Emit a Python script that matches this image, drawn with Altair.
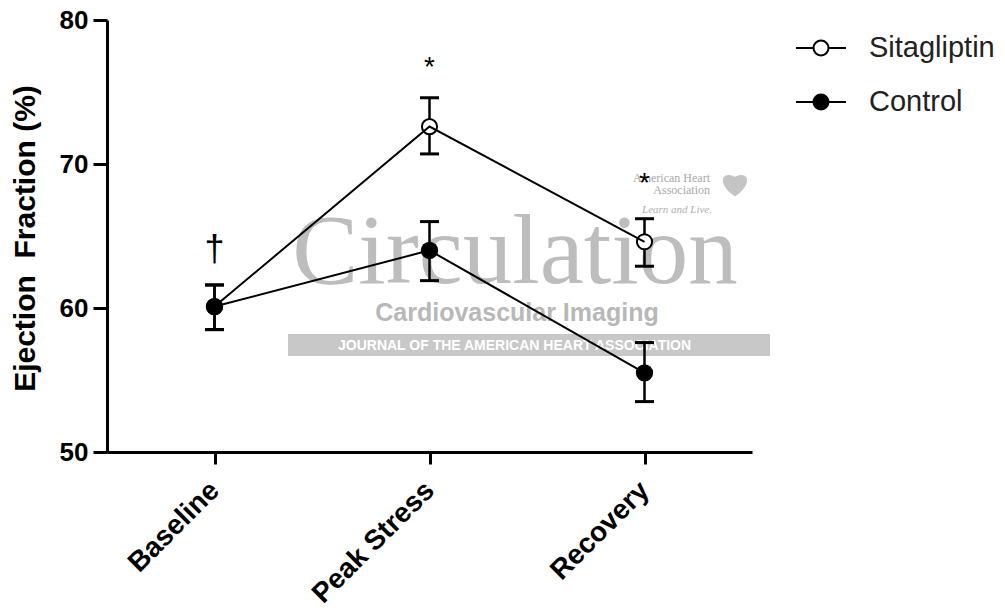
import altair as alt
import pandas as pd

phases = ["Baseline", "Peak Stress", "Recovery"]
series_names = ["Sitagliptin", "Control"]

sita_mean = [60.1, 72.6, 64.6]
sita_upper = [61.6, 74.6, 66.2]
sita_lower = [58.5, 70.7, 62.9]

ctrl_mean = [60.1, 64.0, 55.5]
ctrl_upper = [61.6, 66.0, 57.6]
ctrl_lower = [58.5, 61.9, 53.5]

ann_phase = ["Baseline", "Peak Stress", "Recovery"]
ann_value = [64.2, 77.1, 69.0]
ann_text = ["\u2020", "*", "*"]

y_ticks = [50, 60, 70, 80]

wm_main = ["Circulation"]
wm_sub = ["Cardiovascular Imaging"]
wm_bar = ["JOURNAL OF THE AMERICAN HEART ASSOCIATION"]
wm_aha = ["American Heart", "Association", "Learn and Live."]

rows = []
for name, m, lo, up in [("Sitagliptin", sita_mean, sita_lower, sita_upper),
                        ("Control", ctrl_mean, ctrl_lower, ctrl_upper)]:
    for p, a, b, c in zip(phases, m, lo, up):
        rows.append({"series": name, "phase": p, "mean": a, "lower": b, "upper": c})
df = pd.DataFrame(rows)
ann = pd.DataFrame({"phase": ann_phase, "value": ann_value, "text": ann_text})

FONT = "Liberation Sans"

x_enc = alt.X("phase:N", sort=phases,
              scale=alt.Scale(type="point", domain=phases, padding=0.5),
              axis=alt.Axis(title=None, labelAngle=-45, labelAlign="right", labelBaseline="middle",
                            labelFont=FONT, labelFontWeight="bold", labelFontSize=28, labelColor="black",
                            tickSize=12, tickWidth=3, tickColor="black", domainWidth=3, domainColor="black",
                            labelPadding=22, grid=False))
y_scale = alt.Scale(domain=[50, 80], nice=False, zero=False)
y_axis = alt.Axis(values=y_ticks, format="d", grid=False,
                  labelFont=FONT, labelFontWeight="bold", labelFontSize=26, labelColor="black",
                  labelPadding=5, tickSize=14, tickWidth=3, tickColor="black",
                  domainWidth=3, domainColor="black",
                  title="Ejection\u00a0 Fraction (%)", titleFont=FONT, titleFontWeight="bold",
                  titleFontSize=30, titleColor="black", titleAngle=270, titleX=-82, titleY=218,
                  titleAlign="center", titleBaseline="middle")

base = alt.Chart(df)

# watermark
wm_rect = alt.Chart(pd.DataFrame({"k": [0]})).mark_rect(color="#c8c8c8").encode(
    x=alt.value(181), x2=alt.value(663), y=alt.value(314), y2=alt.value(336))
wm_text1 = alt.Chart(pd.DataFrame({"t": wm_main})).mark_text(
    font="Liberation Serif", fontSize=99, color="#bdbdbd", align="center", baseline="alphabetic"
).encode(text="t:N", x=alt.value(408), y=alt.value(263))
wm_text2 = alt.Chart(pd.DataFrame({"t": wm_sub})).mark_text(
    font=FONT, fontSize=25, fontWeight="bold", color="#b8b8b8", align="center", baseline="alphabetic"
).encode(text="t:N", x=alt.value(410), y=alt.value(301))
wm_text3 = alt.Chart(pd.DataFrame({"t": wm_bar})).mark_text(
    font=FONT, fontSize=14, fontWeight="bold", color="white", align="left", baseline="middle"
).encode(text="t:N", x=alt.value(231), y=alt.value(326))
aha_df = pd.DataFrame({"t": wm_aha})
wm_aha1 = alt.Chart(aha_df.iloc[[0]]).mark_text(
    font="Liberation Serif", fontSize=12, color="#a8a8a8", align="right", baseline="middle"
).encode(text="t:N", x=alt.value(603), y=alt.value(158))
wm_aha2 = alt.Chart(aha_df.iloc[[1]]).mark_text(
    font="Liberation Serif", fontSize=12, color="#a8a8a8", align="right", baseline="middle"
).encode(text="t:N", x=alt.value(603), y=alt.value(170))
wm_aha3 = alt.Chart(aha_df.iloc[[2]]).mark_text(
    font="Liberation Serif", fontSize=11, fontStyle="italic", color="#b0b0b0", align="right", baseline="middle"
).encode(text="t:N", x=alt.value(605), y=alt.value(190))
heart_path = "M0,0.95C-1.3,0.1 -1.0,-0.95 0,-0.45C1.0,-0.95 1.3,0.1 0,0.95Z"
wm_heart = alt.Chart(pd.DataFrame({"k": [0]})).mark_point(
    shape=heart_path, filled=True, color="#c4c4c4", size=784, opacity=1
).encode(x=alt.value(628), y=alt.value(163))

rules = base.mark_rule(color="black", strokeWidth=2.5).encode(
    x=x_enc, y=alt.Y("lower:Q", scale=y_scale, axis=y_axis), y2="upper:Q")
cap_up = base.mark_tick(color="black", thickness=3, size=19, opacity=1).encode(
    x=x_enc, y=alt.Y("upper:Q", scale=y_scale))
cap_lo = base.mark_tick(color="black", thickness=3, size=19, opacity=1).encode(
    x=x_enc, y=alt.Y("lower:Q", scale=y_scale))

open_pts = base.transform_filter(alt.datum.series == "Sitagliptin").mark_point(
    shape="circle", fill="white", filled=False, stroke="black", strokeWidth=2, size=230, opacity=1
).encode(x=x_enc, y=alt.Y("mean:Q", scale=y_scale))

lines = base.mark_line(color="black", strokeWidth=2).encode(
    x=x_enc, y=alt.Y("mean:Q", scale=y_scale), detail="series:N")

filled_pts = base.transform_filter(alt.datum.series == "Control").mark_point(
    shape="circle", filled=True, color="black", size=300, opacity=1
).encode(x=x_enc, y=alt.Y("mean:Q", scale=y_scale))

star_layer = alt.Chart(ann).transform_filter(alt.datum.text == "*").mark_text(
    font=FONT, fontSize=28, color="black", align="center", baseline="middle", dy=6).encode(
    x=x_enc, y=alt.Y("value:Q", scale=y_scale), text="text:N")
dagger_layer = alt.Chart(ann).transform_filter(alt.datum.text != "*").mark_text(
    font=FONT, fontSize=36, color="black", align="center", baseline="middle", dy=2).encode(
    x=x_enc, y=alt.Y("value:Q", scale=y_scale), text="text:N")

legend_path = ("M-1,0L-0.3,0M0.3,0L1,0"
               "M-0.3,0A0.3,0.3 0 1 1 0.3,0A0.3,0.3 0 1 1 -0.3,0Z")
carrier = base.mark_point(opacity=0, filled=True, stroke="black", strokeWidth=2, shape="circle").encode(
    x=x_enc, y=alt.Y("mean:Q", scale=y_scale),
    fill=alt.Fill("series:N", scale=alt.Scale(domain=series_names, range=["white", "black"]),
                  legend=alt.Legend(title=None, orient="none", legendX=688, legendY=2,
                                    symbolType=legend_path, symbolSize=2500,
                                    symbolStrokeColor="black", symbolStrokeWidth=2, symbolOpacity=1,
                                    labelFont=FONT, labelFontSize=29, labelColor="#222222",
                                    labelOffset=22, rowPadding=13, labelLimit=300)))

chart = alt.layer(
    wm_rect, wm_text1, wm_text2, wm_text3, wm_aha1, wm_aha2, wm_aha3, wm_heart,
    rules, cap_up, cap_lo, open_pts, lines, filled_pts, star_layer, dagger_layer, carrier
).properties(
    width=645, height=432,
    autosize=alt.AutoSizeParams(type="none"),
    padding={"left": 107, "top": 20, "right": 253, "bottom": 161},
    background="white"
).configure_view(stroke=None)

chart.save("out.html", embed_options={"renderer": "svg", "actions": False})
